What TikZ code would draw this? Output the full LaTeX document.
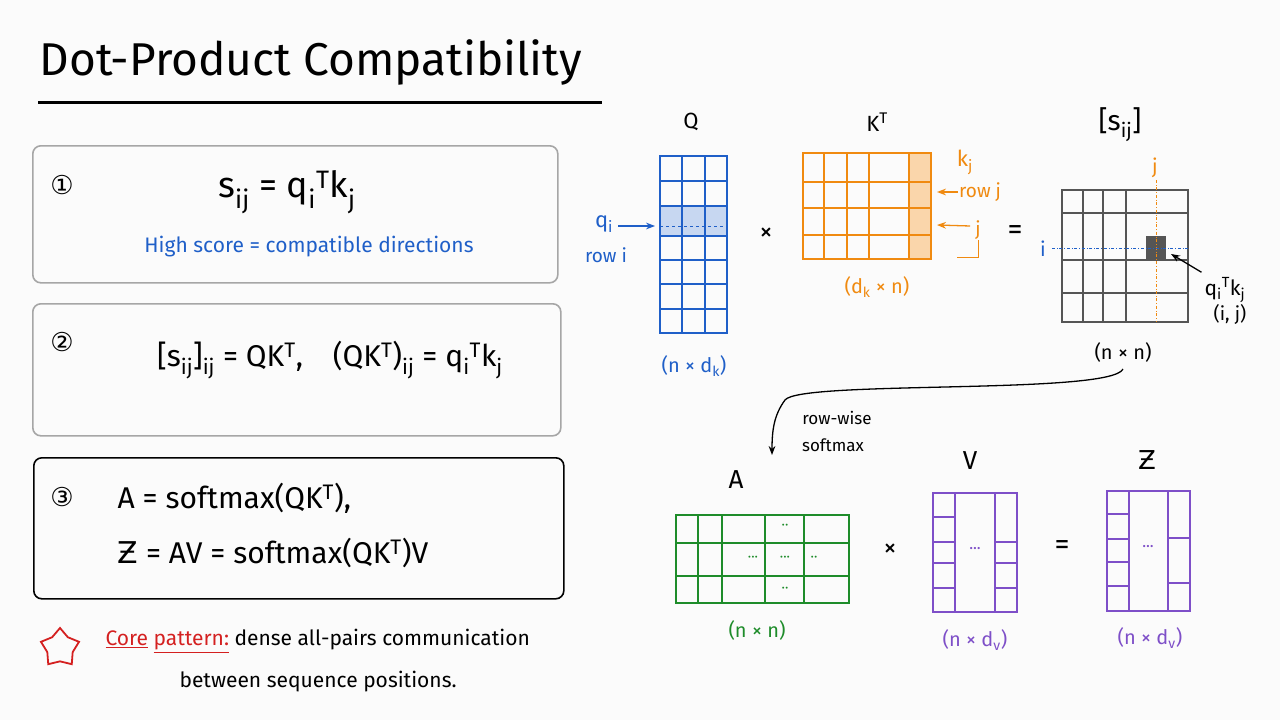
\documentclass[tikz,border=0pt]{standalone}
\usepackage{fontspec}
\setmainfont{Fira Sans}
\newfontfamily\djv{DejaVu Sans}
\usetikzlibrary{arrows.meta,shapes.geometric}
\definecolor{cb}{HTML}{1F5FC8}
\definecolor{co}{HTML}{F08A10}
\definecolor{cg}{HTML}{1E8C2A}
\definecolor{cp}{HTML}{7E4FC8}
\definecolor{cr}{HTML}{D42020}
\definecolor{cgr}{HTML}{555555}
\newcommand{\fs}[1]{\fontsize{#1}{#1}\selectfont}
\newcommand{\sbs}[1]{\textsubscript{#1}}
\newcommand{\sps}[1]{\textsuperscript{#1}}
\newcommand{\Zs}{{\djv Ƶ}}
\tikzset{
 panel/.style={draw=gray!70,line width=1.6pt,rounded corners=8pt},
 lab/.style={inner sep=1pt,font=\fs{22}},
 arr/.style={-{Stealth[length=9pt]},line width=1.3pt},
}
\begin{document}
\begin{tikzpicture}[x=1pt,y=-1pt]
\fill[white!97!gray] (0,0) rectangle (1280,720);
\useasboundingbox (0,0) rectangle (1280,720);
% title
\node[anchor=west,font=\fs{46}] (title) at (36,62) {Dot-Product Compatibility};
\draw[line width=3pt] (38,102) -- (602,102);
% panels
\node[panel,minimum width=525,minimum height=137,anchor=north west] (p1) at (32,145) {};
\node[panel,minimum width=528,minimum height=132,anchor=north west] (p2) at (32,303) {};
\node[panel,draw=black,minimum width=530,minimum height=141,anchor=north west] (p3) at (33,457) {};
\node[font={\djv\fs{26}}] (n1) at (62,185) {①};
\node[font={\djv\fs{26}}] (n2) at (62,342) {②};
\node[font={\djv\fs{26}}] (n3) at (62,497) {③};
\node[font=\fs{36}] (f1) at (287,192) {s\sbs{ij} = q\sbs{i}\sps{T}k\sbs{j}};
\node[font=\fs{21},text=cb] (f1b) at (309,247) {High score = compatible directions};
\node[font=\fs{30}] (f2) at (330,360) {[s\sbs{ij}]\sbs{ij} = QK\sps{T},\quad (QK\sps{T})\sbs{ij} = q\sbs{i}\sps{T}k\sbs{j}};
\node[font=\fs{30},anchor=west] (f3a) at (114,498) {A = softmax(QK\sps{T}),};
\node[font=\fs{30},anchor=west] (f3b) at (114,553) {\Zs{} = AV = softmax(QK\sps{T})V};
% core pattern
\node[star,star points=5,draw=cr,line width=1.8pt,minimum size=40pt,inner sep=0pt] (star) at (60,648) {};
\node[anchor=west,font=\fs{21}] (c1) at (102,641) {\textcolor{cr}{\underline{Core} \underline{pattern:}} dense all-pairs communication};
\node[anchor=west,font=\fs{21}] (c2) at (176,682) {between sequence positions.};
% Q matrix
\fill[cb!25] (660,206) rectangle (727,236);
\draw[cb,line width=1.5pt] (660,156) rectangle (727,333);
\foreach \x in {682,705} \draw[cb,line width=1.3pt] (\x,156) -- (\x,333);
\foreach \y in {181,206,236,260,284,309} \draw[cb,line width=1.3pt] (660,\y) -- (727,\y);
\draw[cb,dashed,line width=0.8pt] (660,226) -- (727,226);
\node[lab] (Ql) at (691,122) {Q};
\node[lab,text=cb,font=\fs{20}] (Qd) at (694,366) {(n × d\sbs{k})};
\node[lab,text=cb] (qi) at (604,224) {q\sbs{i}};
\node[lab,text=cb,font=\fs{19}] (rowi) at (606,255) {row i};
\coordinate (qa) at (655,226);
\draw[arr,cb] (qi.east) ++(4,2) -- (qa);
\node[lab,font=\fs{26}] (x1) at (766,234) {×};
% K^T
\fill[co!35] (909,153) rectangle (931,259);
\draw[co,line width=1.5pt] (803,153) rectangle (931,259);
\foreach \x in {824,847,869,909} \draw[co,line width=1.3pt] (\x,153) -- (\x,259);
\foreach \y in {182,208,235} \draw[co,line width=1.3pt] (803,\y) -- (931,\y);
\node[lab] (Kl) at (877,122) {K\sps{T}};
\node[lab,text=co] (kj) at (965,162) {k\sbs{j}};
\node[lab,text=co,font=\fs{19},anchor=west] (rowj) at (958,192) {row j};
\coordinate (ka) at (937,192);
\draw[arr,co] (rowj.west) -- (ka);
\node[lab,text=co,font=\fs{19}] (jj) at (978,230) {j};
\coordinate (ka2) at (937,225);
\draw[arr,co] (jj.west) ++(-4,-4) -- (ka2);
\draw[co,line width=1pt] (978,240) -- (978,257) -- (957,257);
\node[lab,text=co,font=\fs{20}] (Kd) at (877,287) {(d\sbs{k} × n)};
\node[lab,font=\fs{30}] (eq1) at (1015,233) {=};
% S
\node[lab,font=\fs{28}] (Sl) at (1120,125) {[s\sbs{ij}]};
\fill[cgr] (1146,236) rectangle (1166,259);
\draw[cgr,line width=1.5pt] (1062,190) rectangle (1188,322);
\foreach \x in {1083,1103,1126} \draw[cgr,line width=1.3pt] (\x,190) -- (\x,322);
\foreach \y in {213,260,293} \draw[cgr,line width=1.3pt] (1062,\y) -- (1188,\y);
\node[lab,text=co,font=\fs{20}] (jl) at (1155,168) {j};
\draw[co,dash dot,line width=1pt] (1156,180) -- (1156,322);
\node[lab,text=cb,font=\fs{20}] (il) at (1043,249) {i};
\draw[cb,dash dot,line width=1pt] (1052,248) -- (1188,248);
\node[lab,font=\fs{21}] (qk) at (1225,290) {q\sbs{i}\sps{T}k\sbs{j}};
\node[lab,font=\fs{19}] (ij) at (1230,314) {(i, j)};
\coordinate (sa) at (1171,254);
\draw[arr,black] (qk.north west) ++(-2,-4) -- (sa);
\node[lab,font=\fs{20}] (Sd) at (1123,352) {(n × n)};
% curved arrow
\coordinate (ae) at (772,455);
\draw[arr,black] (Sd.south) ++(0,6) .. controls (1110,395) and (800,380) .. (785,400) .. controls (774,415) and (772,430) .. (ae);
\node[lab,font=\fs{17}] (rw) at (837,418) {row-wise};
\node[lab,font=\fs{17}] (sm) at (833,445) {softmax};
% A
\node[lab,font=\fs{26}] (Al) at (736,480) {A};
\draw[cg,line width=1.5pt] (676,515) rectangle (849,603);
\foreach \x in {698,722,765,804} \draw[cg,line width=1.3pt] (\x,515) -- (\x,603);
\foreach \y in {543,576} \draw[cg,line width=1.3pt] (676,\y) -- (849,\y);
\foreach \p/\t in {{(785,527)}/··,{(753,559)}/···,{(785,559)}/···,{(814,559)}/··,{(785,590)}/··}
  \node[text=cg,font=\fs{14},inner sep=0] at \p {\t};
\node[lab,text=cg,font=\fs{20}] (Ad) at (757,630) {(n × n)};
\node[lab,font=\fs{26}] (x2) at (890,550) {×};
% V
\node[lab,font=\fs{26}] (Vl) at (970,461) {V};
\draw[cp,line width=1.5pt] (933,493) rectangle (1017,612);
\foreach \x in {955,995} \draw[cp,line width=1.3pt] (\x,493) -- (\x,612);
\foreach \y in {517,542,563,588} \draw[cp,line width=1.3pt] (933,\y) -- (955,\y);
\foreach \y in {542,563,588} \draw[cp,line width=1.3pt] (995,\y) -- (1017,\y);
\node[text=cp,font=\fs{16},inner sep=0] (Vdots) at (975,550) {···};
\node[lab,text=cp,font=\fs{20}] (Vd) at (975,640) {(n × d\sbs{v})};
\node[lab,font=\fs{30}] (eq2) at (1062,548) {=};
% Z
\node[lab,font=\fs{26}] (Zl) at (1147,460) {\Zs};
\draw[cp,line width=1.5pt] (1107,491) rectangle (1190,611);
\foreach \x in {1129,1168} \draw[cp,line width=1.3pt] (\x,491) -- (\x,611);
\foreach \y in {514,539,562,586} \draw[cp,line width=1.3pt] (1107,\y) -- (1129,\y);
\foreach \y in {538,583} \draw[cp,line width=1.3pt] (1168,\y) -- (1190,\y);
\node[text=cp,font=\fs{16},inner sep=0] (Zdots) at (1148,548) {···};
\node[lab,text=cp,font=\fs{20}] (Zd) at (1150,638) {(n × d\sbs{v})};
\end{tikzpicture}
\end{document}
